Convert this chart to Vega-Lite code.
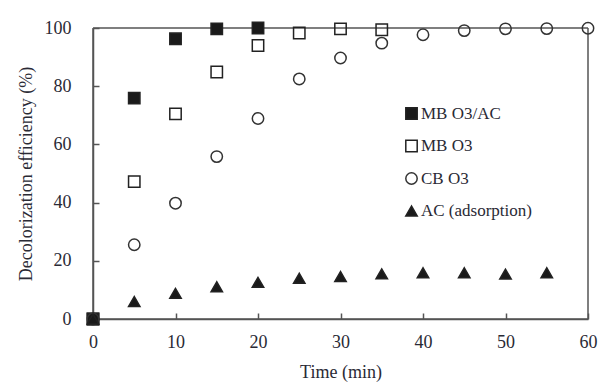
{
  "$schema": "https://vega.github.io/schema/vega-lite/v6.json",
  "width": 495,
  "height": 291,
  "autosize": {"type": "none"},
  "padding": {"left": 93, "top": 28, "right": 18, "bottom": 65},
  "background": "white",
  "config": {
    "view": {"stroke": null},
    "axis": {
      "grid": true,
      "gridOpacity": 0,
      "domainColor": "#555",
      "domainWidth": 1.5,
      "tickColor": "#555",
      "tickWidth": 1.5,
      "tickSize": -6,
      "labelFlush": false,
      "labelFont": "Liberation Serif",
      "labelFontSize": 18,
      "labelColor": "#2a2a35",
      "titleFont": "Liberation Serif",
      "titleFontSize": 18,
      "titleFontWeight": "normal",
      "titleColor": "#2a2a35"
    },
    "legend": {"labelFont": "Liberation Serif"}
  },
  "data": {
    "values": [
      {"t": 0, "v": 0, "s": "MB O3/AC"},
      {"t": 5, "v": 75.9, "s": "MB O3/AC"},
      {"t": 10, "v": 96.3, "s": "MB O3/AC"},
      {"t": 15, "v": 99.7, "s": "MB O3/AC"},
      {"t": 20, "v": 100, "s": "MB O3/AC"},
      {"t": 0, "v": 0, "s": "MB O3"},
      {"t": 5, "v": 47.2, "s": "MB O3"},
      {"t": 10, "v": 70.5, "s": "MB O3"},
      {"t": 15, "v": 84.9, "s": "MB O3"},
      {"t": 20, "v": 94.0, "s": "MB O3"},
      {"t": 25, "v": 98.3, "s": "MB O3"},
      {"t": 30, "v": 99.7, "s": "MB O3"},
      {"t": 35, "v": 99.4, "s": "MB O3"},
      {"t": 0, "v": 0, "s": "CB O3"},
      {"t": 5, "v": 25.5, "s": "CB O3"},
      {"t": 10, "v": 39.8, "s": "CB O3"},
      {"t": 15, "v": 55.8, "s": "CB O3"},
      {"t": 20, "v": 68.9, "s": "CB O3"},
      {"t": 25, "v": 82.5, "s": "CB O3"},
      {"t": 30, "v": 89.7, "s": "CB O3"},
      {"t": 35, "v": 94.8, "s": "CB O3"},
      {"t": 40, "v": 97.7, "s": "CB O3"},
      {"t": 45, "v": 99.1, "s": "CB O3"},
      {"t": 50, "v": 99.7, "s": "CB O3"},
      {"t": 55, "v": 99.8, "s": "CB O3"},
      {"t": 60, "v": 99.9, "s": "CB O3"},
      {"t": 0, "v": 0, "s": "AC (adsorption)"},
      {"t": 5, "v": 6.0, "s": "AC (adsorption)"},
      {"t": 10, "v": 8.8, "s": "AC (adsorption)"},
      {"t": 15, "v": 11.1, "s": "AC (adsorption)"},
      {"t": 20, "v": 12.6, "s": "AC (adsorption)"},
      {"t": 25, "v": 14.0, "s": "AC (adsorption)"},
      {"t": 30, "v": 14.6, "s": "AC (adsorption)"},
      {"t": 35, "v": 15.5, "s": "AC (adsorption)"},
      {"t": 40, "v": 15.9, "s": "AC (adsorption)"},
      {"t": 45, "v": 15.9, "s": "AC (adsorption)"},
      {"t": 50, "v": 15.4, "s": "AC (adsorption)"},
      {"t": 55, "v": 15.9, "s": "AC (adsorption)"}
    ]
  },
  "layer": [
    {
      "data": {"values": [{"edge": "top"}]},
      "mark": {"type": "rule", "color": "#555", "strokeWidth": 1.5},
      "encoding": {"y": {"datum": 100, "type": "quantitative"}}
    },
    {
      "data": {"values": [{"edge": "right"}]},
      "mark": {"type": "rule", "color": "#555", "strokeWidth": 1.5},
      "encoding": {"x": {"datum": 60, "type": "quantitative"}}
    },
    {
      "data": {"values": [{"edge": "bottom"}]},
      "mark": {"type": "rule", "color": "#555", "strokeWidth": 1.5},
      "encoding": {"y": {"datum": 0, "type": "quantitative"}}
    },
    {
      "data": {"values": [{"edge": "left"}]},
      "mark": {"type": "rule", "color": "#555", "strokeWidth": 1.5},
      "encoding": {"x": {"datum": 0, "type": "quantitative"}}
    },
    {
      "mark": {"type": "point", "filled": true, "strokeWidth": 1.5, "opacity": 1, "size": 130},
      "encoding": {
        "x": {
          "field": "t", "type": "quantitative",
          "scale": {"domain": [0, 60], "nice": false, "zero": false},
          "axis": {"values": [0, 10, 20, 30, 40, 50, 60], "title": "Time (min)", "labelPadding": 20, "titleY": 53, "titleBaseline": "middle"}
        },
        "y": {
          "field": "v", "type": "quantitative",
          "scale": {"domain": [0, 100], "nice": false, "zero": false},
          "axis": {"values": [0, 20, 40, 60, 80, 100], "title": "Decolorization efficiency (%)", "labelPadding": 28, "titleX": -67, "titleBaseline": "middle"}
        },
        "shape": {
          "field": "s", "type": "nominal",
          "sort": ["MB O3/AC", "MB O3", "CB O3", "AC (adsorption)"],
          "scale": {"domain": ["MB O3/AC", "MB O3", "CB O3", "AC (adsorption)"], "range": ["square", "square", "circle", "triangle-up"]},
          "legend": {
            "title": null, "orient": "none", "legendX": 310, "legendY": 77, "padding": 0,
            "labelFontSize": 17, "labelColor": "#2a2a35",
            "symbolSize": 130, "symbolStrokeWidth": 1.5,
            "rowPadding": 13.5, "labelOffset": 1
          }
        },
        "fill": {
          "field": "s", "type": "nominal",
          "sort": ["MB O3/AC", "MB O3", "CB O3", "AC (adsorption)"],
          "scale": {"domain": ["MB O3/AC", "MB O3", "CB O3", "AC (adsorption)"], "range": ["#1a1a1a", "transparent", "transparent", "#1a1a1a"]},
          "legend": {
            "title": null, "orient": "none", "legendX": 310, "legendY": 77, "padding": 0,
            "labelFontSize": 17, "labelColor": "#2a2a35",
            "symbolSize": 130, "symbolStrokeWidth": 1.5,
            "rowPadding": 13.5, "labelOffset": 1
          }
        },
        "stroke": {
          "field": "s", "type": "nominal",
          "sort": ["MB O3/AC", "MB O3", "CB O3", "AC (adsorption)"],
          "scale": {"domain": ["MB O3/AC", "MB O3", "CB O3", "AC (adsorption)"], "range": ["#222222", "#222222", "#333333", "#222222"]},
          "legend": {
            "title": null, "orient": "none", "legendX": 310, "legendY": 77, "padding": 0,
            "labelFontSize": 17, "labelColor": "#2a2a35",
            "symbolSize": 130, "symbolStrokeWidth": 1.5,
            "rowPadding": 13.5, "labelOffset": 1
          }
        }
      }
    }
  ]
}
